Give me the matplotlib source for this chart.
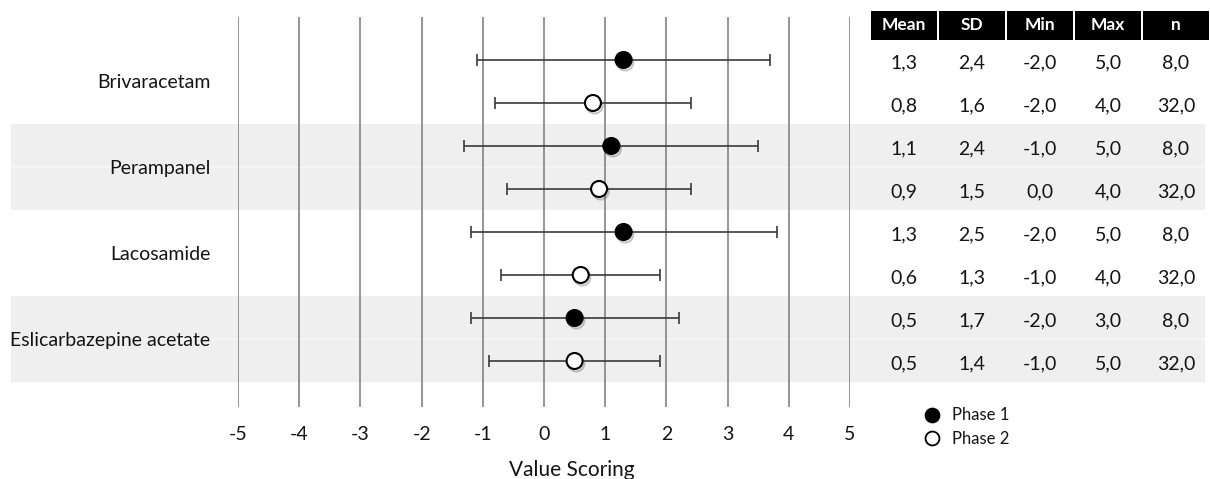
import numpy as np
import matplotlib
matplotlib.use("Agg")
import matplotlib.pyplot as plt
from matplotlib.patches import Rectangle
from matplotlib.lines import Line2D
import matplotlib.patheffects as pe

plt.rcParams['font.family'] = ['Lato', 'DejaVu Sans']

# drug groups, two phases each (phase 1 row, then phase 2 row)
drugs = ["Brivaracetam", "Perampanel", "Lacosamide", "Eslicarbazepine acetate"]
phase = [1, 2, 1, 2, 1, 2, 1, 2]
mean = [1.3, 0.8, 1.1, 0.9, 1.3, 0.6, 0.5, 0.5]
sd = [2.4, 1.6, 2.4, 1.5, 2.5, 1.3, 1.7, 1.4]
vmin = [-2.0, -2.0, -1.0, 0.0, -2.0, -1.0, -2.0, -1.0]
vmax = [5.0, 4.0, 5.0, 4.0, 5.0, 4.0, 3.0, 5.0]
n = [8.0, 32.0, 8.0, 32.0, 8.0, 32.0, 8.0, 32.0]
columns = ["Mean", "SD", "Min", "Max", "n"]
xticks = [-5, -4, -3, -2, -1, 0, 1, 2, 3, 4, 5]

W, H = 1210, 479
fig = plt.figure(figsize=(W / 100, H / 100), dpi=100)

def box(x0, x1, y0, y1):
    # pixel box -> figure fraction
    return [x0 / W, 1 - y1 / H, (x1 - x0) / W, (y1 - y0) / H]

rows = np.arange(len(mean))
ylim = (8.07, -1.0)
ink = "#141414"

# background bands behind everything
bg = fig.add_axes(box(11, 1205, 17, 407))
bg.set_ylim(*ylim)
bg.set_xlim(0, 1)
bg.axis("off")
for k in range(len(drugs)):
    if k % 2 == 1:
        bg.axhspan(2 * k - 0.5, 2 * k + 1.5, color="#efefef", lw=0)
        bg.axhline(2 * k + 0.5, color="#f7f7f7", lw=1.2)

# main forest plot
ax = fig.add_axes(box(238, 850, 17, 407), sharey=bg)
ax.patch.set_alpha(0)
ax.set_xlim(-5, 5)
ax.set_ylim(*ylim)
for s in ax.spines.values():
    s.set_visible(False)
ax.set_xticks(xticks)
ax.set_xticklabels([str(t) for t in xticks])
ax.tick_params(axis="x", length=0, pad=14, labelsize=14, colors=ink)
ax.grid(axis="x", color="#8c8c8c", lw=1.3)
ax.set_axisbelow(True)
ax.set_yticks([2 * k + 0.5 for k in range(len(drugs))])
ax.set_yticklabels(drugs)
ax.tick_params(axis="y", length=0, pad=20, labelsize=14, colors=ink)
ax.set_xlabel("Value Scoring", fontsize=15, color=ink)
ax.xaxis.set_label_coords((572 - 238) / 612, -0.137)

shadow = [pe.SimpleLineShadow(offset=(1.2, -1.8), shadow_color="#555555", alpha=0.35),
          pe.Normal()]
for i in rows:
    filled = phase[i] == 1
    ax.errorbar(mean[i], i, xerr=sd[i], fmt="none", ecolor="#3a3a3a",
                elinewidth=1.2, capsize=4, capthick=1.2, zorder=3)
    ax.plot(mean[i], i, "o", ms=11.5, mfc="black" if filled else "white",
            mec="black", mew=1.5, zorder=4, path_effects=shadow)

# summary table on the right
tab = fig.add_axes(box(870, 1210, 17, 407), sharey=bg)
tab.patch.set_alpha(0)
tab.set_xlim(0, len(columns))
tab.set_ylim(*ylim)
tab.axis("off")
head_top, head_bot = -1.14, -0.47
for j, c in enumerate(columns):
    tab.add_patch(Rectangle((j + 0.01, head_top), 0.98, head_bot - head_top,
                            color="black", clip_on=False, lw=0))
    tab.text(j + 0.5, (head_top + head_bot) / 2, c, color="white", fontsize=12.5,
             fontweight="bold", ha="center", va="center", clip_on=False)
table_cols = [mean, sd, vmin, vmax, n]
for j, col in enumerate(table_cols):
    for i in rows:
        txt = f"{col[i]:.1f}".replace(".", ",")
        tab.text(j + 0.5, i + 0.07, txt, fontsize=14, color=ink,
                 ha="center", va="center")

# legend below the table
handles = [Line2D([], [], ls="none", marker="o", ms=10, mfc="black", mec="black", mew=1.3),
           Line2D([], [], ls="none", marker="o", ms=10, mfc="white", mec="black", mew=1.3)]
fig.legend(handles, ["Phase 1", "Phase 2"], loc="upper left",
           bbox_to_anchor=(914 / W, 1 - 399 / H), frameon=False, fontsize=12,
           handletextpad=0.6, labelspacing=0.45, handlelength=1.2, borderpad=0,
           labelcolor=ink)

fig.savefig("out.png", dpi=100)
